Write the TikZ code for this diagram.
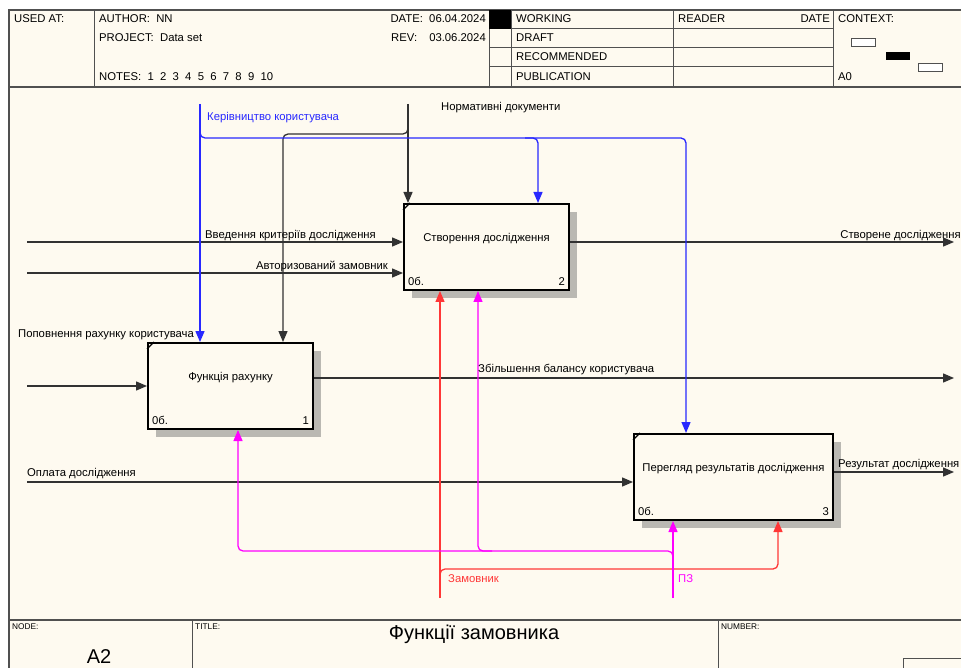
\documentclass[tikz,border=0pt]{standalone}
\usepackage{fontspec}
\setmainfont{Liberation Sans}
\usetikzlibrary{arrows.meta,shadows}
\definecolor{cream}{RGB}{254,250,240}
\definecolor{frameline}{RGB}{80,80,80}
\definecolor{conn}{RGB}{50,50,50}
\definecolor{idefblue}{RGB}{40,40,255}
\definecolor{idefred}{RGB}{255,55,55}
\definecolor{idefmag}{RGB}{255,0,255}
\definecolor{shadowgray}{RGB}{186,184,178}
\begin{document}
\begin{tikzpicture}[x=1pt,y=-1pt,
  font=\fontsize{11.3}{13}\selectfont,
  frm/.style={draw=frameline,line width=1.5pt},
  thinfrm/.style={draw=frameline,line width=1pt},
  txt/.style={inner sep=0pt,anchor=west},
  small/.style={inner sep=0pt,anchor=north west,font=\fontsize{8.3}{9}\selectfont},
  fbox/.style={draw=black,line width=2pt,fill=cream,inner sep=0pt,
    drop shadow={shadow xshift=8pt,shadow yshift=-8pt,fill=shadowgray,opacity=1}},
  tip/.style={-{Triangle[length=11pt,width=9pt]}},
  conn/.style={draw=conn,line width=1.3pt,rounded corners=5pt},
  connb/.style={draw=idefblue,line width=1.3pt,rounded corners=5pt},
  connr/.style={draw=idefred,line width=1.3pt,rounded corners=5pt},
  connm/.style={draw=idefmag,line width=1.3pt,rounded corners=5pt},
  boxtxt/.style={inner sep=0pt},
  corner/.style={draw=black,line width=1.3pt}
]
\useasboundingbox (0,0) rectangle (961,668);
\fill[white] (0,0) rectangle (961,668);
\fill[cream] (9,10) rectangle (961,668);

% ---------------- header ----------------
\draw[frm] (9,668) -- (9,10) -- (961,10);
\draw[frm] (9,87) -- (961,87);
\draw[thinfrm] (94,10) -- (94,87);
\draw[thinfrm] (489,10) -- (489,87);
\draw[thinfrm] (511,10) -- (511,87);
\draw[thinfrm] (673,10) -- (673,87);
\draw[thinfrm] (833,10) -- (833,87);
\foreach \yy in {29,48,67} \draw[thinfrm] (489,\yy) -- (833,\yy);
\fill[black] (489,10) rectangle (511,29);

\node[txt] (usedat) at (14,19) {USED AT:};
\node[txt] (author) at (99,19) {AUTHOR:\ \ NN};
\node[txt] (project) at (99,38) {PROJECT:\ \ Data set};
\node[txt] (notes) at (99,77) {NOTES:\ \ 1\ \ 2\ \ 3\ \ 4\ \ 5\ \ 6\ \ 7\ \ 8\ \ 9\ \ 10};
\node[inner sep=0pt,anchor=east] (date) at (486,19) {DATE:\ \ 06.04.2024};
\node[txt] (rev) at (391,38) {REV:};
\node[inner sep=0pt,anchor=east] (revval) at (486,38) {03.06.2024};
\node[txt] (working) at (516,19) {WORKING};
\node[txt] (draft) at (516,38) {DRAFT};
\node[txt] (recom) at (516,57) {RECOMMENDED};
\node[txt] (public) at (516,77) {PUBLICATION};
\node[txt] (reader) at (678,19) {READER};
\node[inner sep=0pt,anchor=east] (rdate) at (830,19) {DATE};
\node[txt] (context) at (838,19) {CONTEXT:};
\node[txt] (azero) at (838,77) {A0};
\draw[draw=frameline,line width=0.9pt,fill=white] (851,38) rectangle (875,46);
\fill[black] (886,52) rectangle (910,60);
\draw[draw=frameline,line width=0.9pt,fill=white] (918,63) rectangle (942,71);

% ---------------- footer ----------------
\draw[frm] (9,620) -- (961,620);
\draw[thinfrm] (192,620) -- (192,668);
\draw[thinfrm] (718,620) -- (718,668);
\draw[thinfrm] (903,669) -- (903,658) -- (962,658);
\node[small] (nodelbl) at (12,624) {NODE:};
\node[small] (titlelbl) at (195,624) {TITLE:};
\node[small] (numlbl) at (721,624) {NUMBER:};
\node[inner sep=0pt,font=\fontsize{20}{22}\selectfont] (title) at (474,634) {Функції замовника};
\node[inner sep=0pt,font=\fontsize{20}{22}\selectfont] (nodeid) at (99,657) {A2};

% ---------------- boxes ----------------
\node[fbox,minimum width=165pt,minimum height=86pt] (b2) at (486.5,247) {};
\node[fbox,minimum width=165pt,minimum height=86pt] (b1) at (230.5,386) {};
\node[fbox,minimum width=199pt,minimum height=86pt] (b3) at (733.5,477) {};

\foreach \b/\n in {b1/1,b2/2,b3/3}{
  \draw[corner] ([yshift=-7pt]\b.north west) -- ([xshift=7pt]\b.north west);
  \node[inner sep=0pt,anchor=south west] at ([shift={(5pt,5pt)}]\b.south west) {0б.};
  \node[inner sep=0pt,anchor=south east] at ([shift={(-5pt,5pt)}]\b.south east) {\n};
}
\node[boxtxt] (t2) at ([yshift=8pt]b2.center) {Створення дослідження};
\node[boxtxt] (t1) at ([yshift=8pt]b1.center) {Функція рахунку};
\node[boxtxt] (t3) at ([yshift=8pt]b3.center) {Перегляд результатів дослідження};

% ---------------- free-end coordinates ----------------
\coordinate (in1) at (27,242);
\coordinate (in2) at (27,273);
\coordinate (in3) at (27,386);
\coordinate (in4) at (27,482);
\coordinate (out2) at (954,242);
\coordinate (out1) at (954,378);
\coordinate (out3) at (954,472);
\coordinate (ctlblue) at (200,104);
\coordinate (ctlblack) at (408,104);
\coordinate (mechred) at (440,598);
\coordinate (mechmag) at (673,598);

% ---------------- inputs / outputs ----------------
\draw[conn,tip] (in1) -- (in1 -| b2.west);
\draw[conn,tip] (in2) -- (in2 -| b2.west);
\draw[conn,tip] (in3) -- (in3 -| b1.west);
\draw[conn,tip] (in4) -- (in4 -| b3.west);
\draw[conn,tip] (out2 -| b2.east) -- (out2);
\draw[conn,tip] (out1 -| b1.east) -- (out1);
\draw[conn,tip] (out3 -| b3.east) -- (out3);

% ---------------- controls ----------------
\draw[conn,tip] (ctlblack) -- (ctlblack |- b2.north);
\draw[conn,tip] (408,118) -- (408,134) -- (283,134) -- (283,134 |- b1.north);
\draw[connb,tip] (ctlblue) -- (ctlblue |- b1.north);
\draw[connb,tip] (200,125) -- (200,138) -- (686,138) -- (686,138 |- b3.north);
\draw[connb,tip] (525,138) -- (538,138) -- (538,138 |- b2.north);

% ---------------- mechanisms ----------------
\draw[connr,tip] (mechred) -- (mechred |- b2.south);
\draw[connr,tip] (440,582) -- (440,569) -- (778,569) -- (778,569 |- b3.south);
\draw[connm,tip] (mechmag) -- (mechmag |- b3.south);
\draw[connm,tip] (673,564) -- (673,551) -- (238,551) -- (238,551 |- b1.south);
\draw[connm,tip] (492,551) -- (478,551) -- (478,551 |- b2.south);

% ---------------- arrow labels ----------------
\node[txt,text=idefblue] (lblue) at (207,118) {Керівництво користувача};
\node[txt] (lnorm) at (441,108) {Нормативні документи};
\node[txt] (lin1) at (205,236) {Введення критеріїв дослідження};
\node[inner sep=0pt,anchor=east] (lin2) at (388,266) {Авторизований замовник};
\node[inner sep=0pt,anchor=east] (lout2) at (961,236) {Створене дослідження};
\node[txt] (lin3) at (18,335) {Поповнення рахунку користувача};
\node[txt] (lout1) at (478,370) {Збільшення балансу користувача};
\node[txt] (lin4) at (27,474) {Оплата дослідження};
\node[txt] (lout3) at (838,465) {Результат дослідження};
\node[txt,text=idefred] (lred) at (448,579) {Замовник};
\node[txt,text=idefmag] (lmag) at (678,579) {ПЗ};
\end{tikzpicture}
\end{document}
